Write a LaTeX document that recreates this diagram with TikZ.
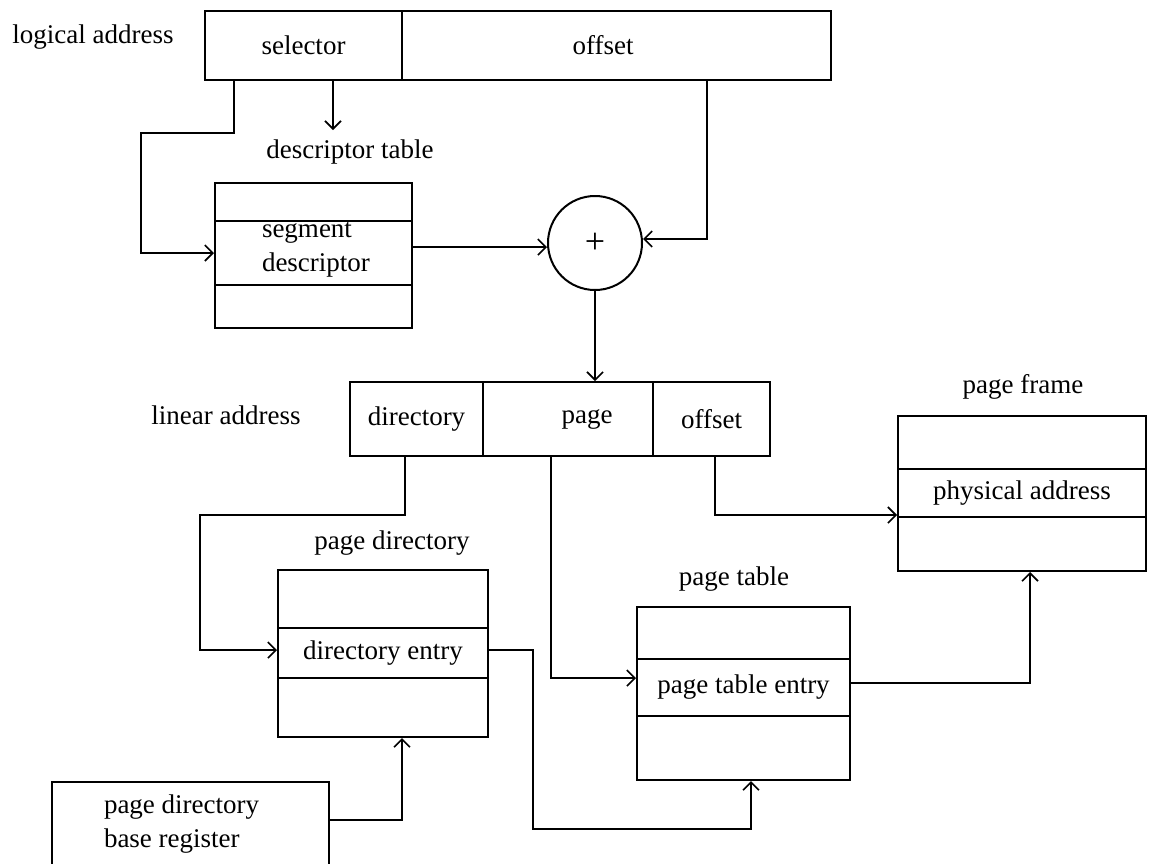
\documentclass[tikz,border=0pt]{standalone}
\usepackage{fontspec}
\setmainfont{Liberation Serif}
\usetikzlibrary{arrows.meta,calc}
\begin{document}
\begin{tikzpicture}[x=1pt,y=-1pt,line width=2pt,
  every node/.style={font=\fontsize{27}{34}\selectfont},
  cell/.style={draw,rectangle,inner sep=0pt,line width=2pt},
  lbl/.style={inner sep=0pt},
  conn/.style={-{Straight Barb[length=8pt,width=16pt,line width=1.6pt]}}]
\useasboundingbox[fill=white] (0,0) rectangle (1154,863);

% logical address
\node[lbl] (labLog) at (93,37) {logical address};
\node[cell,minimum width=197pt,minimum height=69pt] (lasel) at (303.5,45.5) {selector};
\node[cell,minimum width=429pt,minimum height=69pt] (laoff) at (616.5,45.5) {\hspace*{-27pt}offset};

% descriptor table
\node[lbl] (labDT) at (350,152) {descriptor table};
\node[cell,minimum width=197pt,minimum height=38pt] (dt1) at (313.5,202) {};
\node[cell,minimum width=197pt,minimum height=64pt] (dt2) at (313.5,253) {};
\node[cell,minimum width=197pt,minimum height=43pt] (dt3) at (313.5,306.5) {};
\node[lbl,align=left,anchor=west] (segtxt) at (261,250) {segment\\descriptor};

% adder
\node[draw,circle,minimum size=94pt,inner sep=0pt,font=\fontsize{36}{36}\selectfont] (plus) at (595,243) {+};

% linear address
\node[lbl] (labLin) at (226,415) {linear address};
\node[cell,minimum width=133pt,minimum height=74pt] (ldir) at (416.5,419) {directory};
\node[cell,minimum width=170pt,minimum height=74pt] (lpage) at (568,419) {\hspace*{38pt}page};
\node[cell,minimum width=117pt,minimum height=74pt] (loff) at (711.5,419) {offset};

% page frame
\node[lbl] (labPF) at (1023,387) {page frame};
\node[cell,minimum width=248pt,minimum height=53pt] (pf1) at (1022,442.5) {};
\node[cell,minimum width=248pt,minimum height=48pt] (pf2) at (1022,493) {physical address};
\node[cell,minimum width=248pt,minimum height=54pt] (pf3) at (1022,544) {};

% page directory
\node[lbl] (labPD) at (392,543) {page directory};
\node[cell,minimum width=210pt,minimum height=58pt] (pd1) at (383,599) {};
\node[cell,minimum width=210pt,minimum height=50pt] (pd2) at (383,653) {directory entry};
\node[cell,minimum width=210pt,minimum height=59pt] (pd3) at (383,707.5) {};

% page table
\node[lbl] (labPT) at (734,579) {page table};
\node[cell,minimum width=213pt,minimum height=52pt] (pt1) at (743.5,633) {};
\node[cell,minimum width=213pt,minimum height=57pt] (pt2) at (743.5,687.5) {page table entry};
\node[cell,minimum width=213pt,minimum height=64pt] (pt3) at (743.5,748) {};

% page directory base register
\node[cell,minimum width=277pt,minimum height=98pt] (br) at (190.5,831) {};
\node[lbl,align=left,anchor=west] (brtxt) at (103,824.5) {page directory\\base register};

% connector taps
\coordinate (selA) at (234,80);
\coordinate (selB) at (333,80);
\coordinate (selTip) at (333,130);
\coordinate (offA) at (707,80);
\coordinate (dirA) at (405,456);
\coordinate (pageA) at (551,456);
\coordinate (offB) at (715,456);

% connectors
\draw[conn] (selB) -- (selTip);
\draw[conn] (selA) -- ++(0,53) -| ($(dt2.west)+(-73,0)$) -- (dt2.west);
\draw[conn] ($(dt2.east)+(0,-6)$) -- ($(plus.west)+(0,4)$);
\draw[conn] (offA) |- ($(plus.east)+(0,-4)$);
\draw[conn] (plus.south) -- (plus.south |- lpage.north);
\draw[conn] (dirA) -- ++(0,59) -| ($(pd2.west)+(-77,-3)$) -- ($(pd2.west)+(0,-3)$);
\draw[conn] (pageA) |- ($(pt2.west)+(0,-9.5)$);
\draw[conn] (offB) |- ($(pf2.south west)+(0,-3)$);
\draw[conn] ($(pd2.east)+(0,-3)$) -- ++(44,0) -- ++(0,179) -| ($(pt3.south)+(7.5,0)$);
\draw[conn] ($(pt2.east)+(0,-4.5)$) -| ($(pf3.south)+(8,0)$);
\draw[conn] ($(br.east)+(0,-11)$) -| ($(pd3.south)+(19,0)$);
\end{tikzpicture}
\end{document}
